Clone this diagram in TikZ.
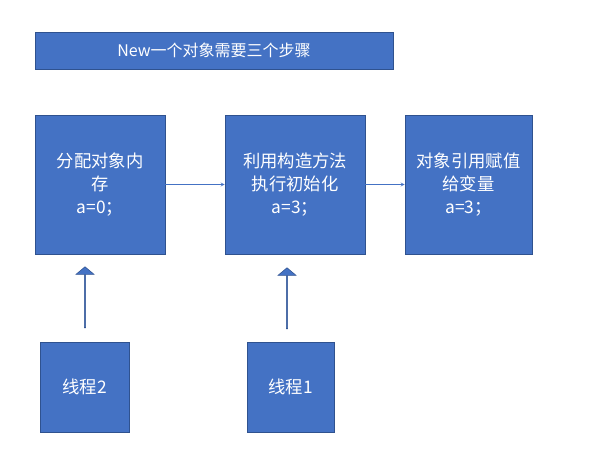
\documentclass[tikz,border=0pt]{standalone}
\usepackage{fontspec}
\setmainfont{Noto Sans CJK SC}
\usetikzlibrary{shapes.arrows, arrows}
\definecolor{boxblue}{HTML}{4472C4}
\definecolor{edgeblue}{HTML}{2F528F}
\tikzstyle{step box} = [rectangle, draw=edgeblue, fill=boxblue, text=white, align=center, font=\fontsize{13}{17}\selectfont, inner sep=0pt]
\tikzstyle{push} = [single arrow, draw=edgeblue, fill=boxblue, shape border rotate=90, minimum width=13.5pt, single arrow head extend=3pt, single arrow tip angle=100, minimum height=45.75pt, inner sep=0pt]
\tikzstyle{arrow} = [draw=boxblue, ->, >=stealth]

\begin{document}
\begin{tikzpicture}[x=0.75pt, y=-0.75pt]
\useasboundingbox (0,0) rectangle (616,473);
\node (title) [step box, minimum width=268.5pt, minimum height=27.75pt, font=\fontsize{12}{14}\selectfont] at (214,50.5) {New一个对象需要三个步骤};
\node (alloc) [step box, minimum width=97.5pt, minimum height=104.25pt] at (100,184.5) {分配对象内\\存\\a=0；};
\node (init) [step box, minimum width=105pt, minimum height=104.25pt] at (295,184.5) {利用构造方法\\执行初始化\\a=3；};
\node (assign) [step box, minimum width=95.25pt, minimum height=104.25pt] at (468.5,184.5) {对象引用赋值\\给变量\\a=3；};
\node (t2) [step box, minimum width=66.75pt, minimum height=67.5pt] at (84.5,387) {线程2};
\node (t1) [step box, minimum width=65.25pt, minimum height=67.5pt] at (290.5,387) {线程1};
\node (up2) [push] at (85,297.5) {};
\node (up1) [push] at (287,298.5) {};

\draw [arrow] (alloc) -- (init);
\draw [arrow] (init) -- (assign);
\end{tikzpicture}
\end{document}
